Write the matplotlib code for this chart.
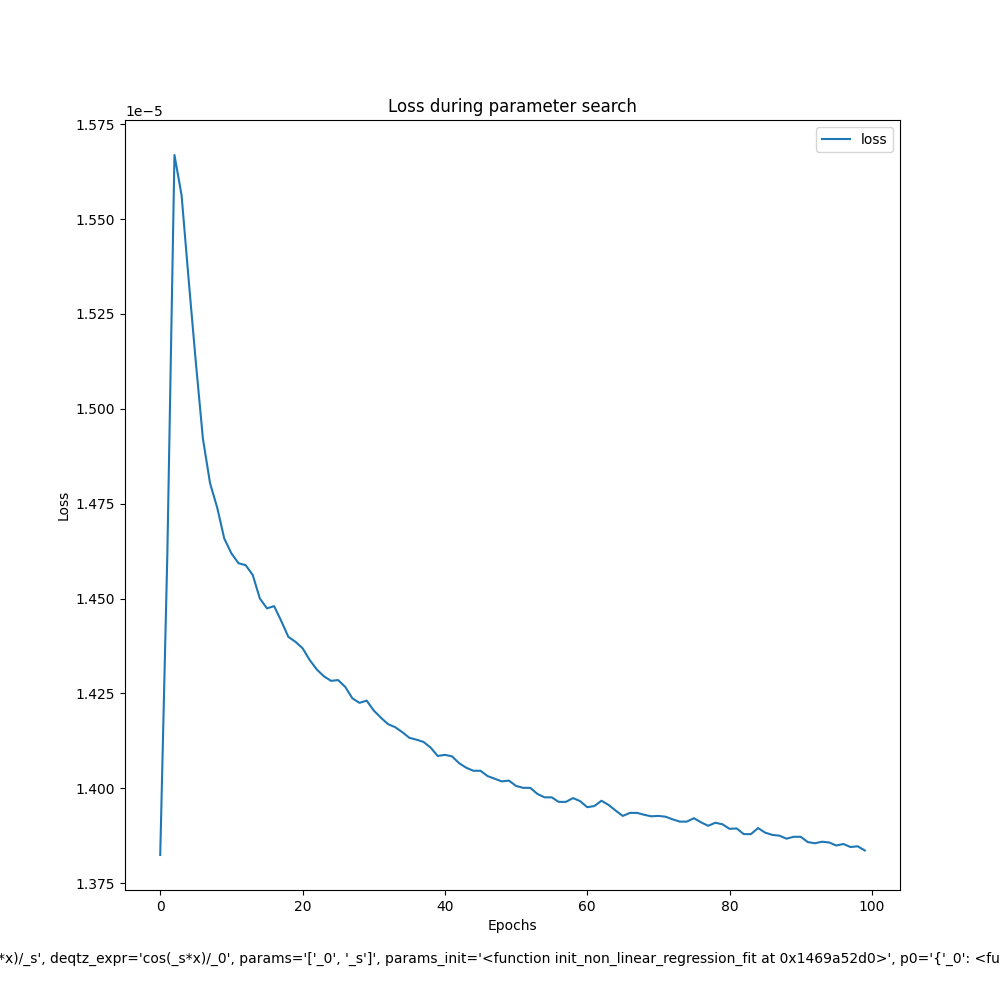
import numpy as np
import matplotlib
matplotlib.use("Agg")
import matplotlib.pyplot as plt

# loss values (x 1e-5), one per epoch
loss_e5 = [
    1.3824, 1.4617, 1.5669, 1.5563, 1.5339, 1.5123, 1.4921, 1.4804, 1.4740, 1.4658,
    1.4619, 1.4593, 1.4588, 1.4562, 1.4500, 1.4474, 1.4480, 1.4441, 1.4399, 1.4386,
    1.4369, 1.4338, 1.4313, 1.4295, 1.4283, 1.4285, 1.4267, 1.4237, 1.4225, 1.4231,
    1.4205, 1.4186, 1.4169, 1.4161, 1.4148, 1.4133, 1.4128, 1.4122, 1.4107, 1.4085,
    1.4088, 1.4084, 1.4066, 1.4054, 1.4046, 1.4046, 1.4032, 1.4025, 1.4018, 1.4020,
    1.4006, 1.4001, 1.4001, 1.3985, 1.3976, 1.3976, 1.3964, 1.3964, 1.3974, 1.3966,
    1.3950, 1.3953, 1.3967, 1.3956, 1.3941, 1.3927, 1.3935, 1.3935, 1.3930, 1.3926,
    1.3927, 1.3925, 1.3918, 1.3912, 1.3912, 1.3921, 1.3910, 1.3901, 1.3909, 1.3905,
    1.3893, 1.3894, 1.3879, 1.3879, 1.3895, 1.3883, 1.3877, 1.3875, 1.3867, 1.3872,
    1.3872, 1.3858, 1.3855, 1.3859, 1.3857, 1.3849, 1.3853, 1.3845, 1.3847, 1.3836,
]
loss = np.array(loss_e5) * 1e-5
epochs = np.arange(len(loss))

footer = ("*x)/_s', deqtz_expr='cos(_s*x)/_0', params='['_0', '_s']', "
          "params_init='<function init_non_linear_regression_fit at 0x1469a52d0>', "
          "p0='{'_0': <function init_non_linear_regression_fit at 0x1469a52d0>}'")

fig, ax = plt.subplots(figsize=(10, 10), dpi=100)
ax.plot(epochs, loss, label="loss")
ax.set_title("Loss during parameter search")
ax.set_xlabel("Epochs")
ax.set_ylabel("Loss")
ax.legend(loc="upper right")

# long run description under the plot, clipped by the figure edges like the original
fig.text(-0.002, 0.037, footer, ha="left", va="baseline", fontsize=10)

fig.savefig("out.png", dpi=100)
